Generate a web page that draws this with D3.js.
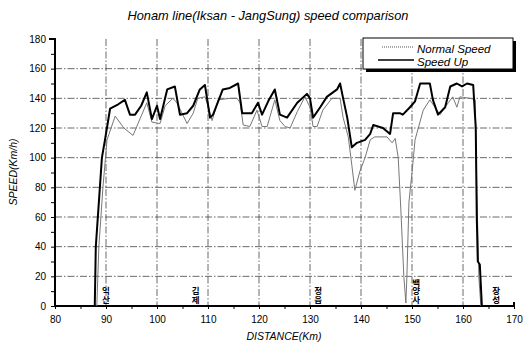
<!DOCTYPE html>
<html>
<head>
<meta charset="utf-8">
<script src="https://cdn.jsdelivr.net/npm/d3@7"></script>
<style>
  body { margin: 0; background: #fff; }
  text { font-family: "Liberation Sans", Arial, sans-serif; }
</style>
</head>
<body>
<div id="chart"></div>
<script>
// Speed Up (thick black line)
var distUp = [87.8, 88.0, 88.8, 89.2, 89.8, 90.8, 92.4, 93.7, 94.7, 95.7, 96.9, 98.0, 99.0, 100.0, 100.6,
    102.0, 103.5, 104.5, 105.9, 107.1, 108.4, 109.4, 110.4, 111.0, 112.9, 114.3, 115.9, 116.7, 118.6,
    119.8, 120.6, 121.8, 123.1, 124.1, 125.5, 127.5, 129.4, 130.0, 130.6, 132.0, 133.3, 135.3, 135.9,
    136.5, 137.3, 138.2, 139.2, 140.8, 141.8, 142.4, 144.3, 145.7, 146.3, 147.6, 148.2, 149.6, 150.6,
    151.6, 153.5, 154.1, 155.1, 156.5, 157.5, 158.8, 159.8, 160.8, 162.0, 162.5, 162.7, 162.9, 163.3, 163.7];
var speedUp = [0, 40, 80, 100, 112, 133, 136, 139, 129, 129, 135, 144, 126, 135, 126,
    146, 148, 129, 130, 135, 146, 149, 127, 129, 146, 147, 150, 130, 130,
    137, 129, 138, 146, 129, 127, 137, 143, 140, 127, 134, 141, 146, 150,
    140, 127, 107, 110, 112, 116, 122, 120, 116, 130, 130, 129, 134, 138,
    150, 150, 139, 129, 134, 148, 150, 148, 150, 149, 120, 60, 30, 28, 0];

// Normal Speed (thin grey line)
var distNormal = [88.2, 88.6, 89.4, 90.2, 91.8, 93.5, 95.3, 98.0, 99.0, 100.6, 101.6, 103.1, 103.9, 104.9,
    105.9, 107.1, 108.0, 109.4, 110.0, 110.8, 112.0, 114.3, 115.7, 116.3, 116.9, 118.2, 119.6, 120.6,
    121.6, 123.1, 124.1, 125.1, 126.1, 127.5, 129.0, 130.0, 130.6, 131.4, 132.5, 134.3, 135.9, 136.5,
    137.5, 138.2, 138.8, 139.8, 140.8, 141.8, 142.7, 145.1, 146.1, 146.7, 147.3, 147.8, 148.4, 148.8,
    149.0, 149.4, 150.0, 150.6, 152.2, 153.5, 154.9, 155.5, 157.1, 158.0, 158.8, 159.4, 161.4, 162.4,
    162.7, 163.1, 163.5];
var speedNormal = [0, 40, 80, 112, 128, 120, 115, 137, 124, 123, 135, 140, 137, 130,
    123, 130, 140, 141, 135, 125, 139, 140, 140, 137, 122, 121, 132, 121,
    121, 139, 125, 121, 120, 131, 141, 134, 121, 121, 132, 140, 140, 127,
    114, 95, 78, 91, 100, 112, 114, 114, 110, 113, 100, 66, 20, 2,
    20, 70, 90, 112, 132, 139, 132, 129, 137, 141, 134, 141, 140, 139,
    80, 20, 0];

var xTicks = [80, 90, 100, 110, 120, 130, 140, 150, 160, 170];
var yTicks = [0, 20, 40, 60, 80, 100, 120, 140, 160, 180];

var stationNames = ["익산", "김제", "정읍", "백양사", "장성"];
var stationKm = [90.0, 107.6, 131.6, 150.8, 166.5];

var W = 526, H = 343;
var margin = { top: 39, right: 12, bottom: 37, left: 55 };
var width = W - margin.left - margin.right,
    height = H - margin.top - margin.bottom;

var svg = d3.select("#chart").append("svg")
    .attr("width", W)
    .attr("height", H);

var g = svg.append("g")
    .attr("transform", "translate(" + margin.left + "," + margin.top + ")");

var x = d3.scaleLinear().domain([80, 170]).range([0, width]);
var y = d3.scaleLinear().domain([0, 180]).range([height, 0]);

// title
svg.append("text")
    .attr("x", 268).attr("y", 20)
    .attr("text-anchor", "middle")
    .style("font-size", "12.8px")
    .style("font-style", "italic")
    .text("Honam line(Iksan - JangSung) speed comparison");

// grid (dash-dot)
g.selectAll(".hgrid")
    .data(yTicks.filter(function(d){ return d > 0 && d < 180; }))
    .enter().append("line")
    .attr("x1", 0).attr("x2", width)
    .attr("y1", function(d){ return y(d); })
    .attr("y2", function(d){ return y(d); })
    .attr("stroke", "#444")
    .attr("stroke-width", 0.8)
    .attr("stroke-dasharray", "7,2,1.5,2");

g.selectAll(".vgrid")
    .data(xTicks.filter(function(d){ return d > 80 && d < 170; }))
    .enter().append("line")
    .attr("x1", function(d){ return x(d); })
    .attr("x2", function(d){ return x(d); })
    .attr("y1", 0).attr("y2", height)
    .attr("stroke", "#444")
    .attr("stroke-width", 0.8)
    .attr("stroke-dasharray", "7,2,1.5,2");

// axes
var xAxis = d3.axisBottom(x)
    .tickValues(d3.range(80, 171, 5))
    .tickSize(3)
    .tickFormat(function(d){ return xTicks.indexOf(d) >= 0 ? d : ""; });

var yAxis = d3.axisLeft(y)
    .tickValues(d3.range(0, 181, 10))
    .tickSize(4)
    .tickFormat(function(d){ return yTicks.indexOf(d) >= 0 ? d : ""; });

var gx = g.append("g")
    .attr("transform", "translate(0," + height + ")")
    .call(xAxis);
gx.select(".domain").attr("stroke-width", 2).attr("d", "M0,0H" + width + "V-4");
gx.selectAll("text").style("font-size", "10px").attr("dy", "1.1em");

var gy = g.append("g").call(yAxis);
gy.select(".domain").attr("stroke-width", 2).attr("d", "M-6,0H0V" + height);
gy.selectAll("text").style("font-size", "10px").attr("x", -9);

// axis titles
svg.append("text")
    .attr("transform", "translate(17," + 172 + ") rotate(-90)")
    .attr("text-anchor", "middle")
    .style("font-size", "10.5px")
    .style("font-style", "italic")
    .text("SPEED(Km/h)");

svg.append("text")
    .attr("x", 284).attr("y", 340)
    .attr("text-anchor", "middle")
    .style("font-size", "10.5px")
    .style("font-style", "italic")
    .text("DISTANCE(Km)");

// lines
var line = d3.line()
    .x(function(d){ return x(d[0]); })
    .y(function(d){ return y(d[1]); });

var normalData = distNormal.map(function(d, i){ return [d, speedNormal[i]]; });
var upData = distUp.map(function(d, i){ return [d, speedUp[i]]; });

g.append("path")
    .datum(normalData)
    .attr("fill", "none")
    .attr("stroke", "#777")
    .attr("stroke-width", 1)
    .attr("d", line);

g.append("path")
    .datum(upData)
    .attr("fill", "none")
    .attr("stroke", "#000")
    .attr("stroke-width", 2)
    .attr("stroke-linejoin", "round")
    .attr("d", line);

// station names, written top to bottom
g.selectAll(".station")
    .data(stationNames)
    .enter().append("text")
    .attr("class", "station")
    .attr("x", function(d, i){ return x(stationKm[i]); })
    .attr("y", function(d){ return height - 2 - d.length * 8.5; })
    .style("writing-mode", "vertical-rl")
    .style("text-orientation", "upright")
    .style("font-family", "'Noto Sans CJK KR'")
    .style("font-size", "8.5px")
    .style("font-weight", "bold")
    .text(function(d){ return d; });

// legend with shadow
var lg = svg.append("g");
lg.append("rect")
    .attr("x", 366).attr("y", 41).attr("width", 150).attr("height", 31)
    .attr("fill", "#000");
lg.append("rect")
    .attr("x", 363).attr("y", 38).attr("width", 150).attr("height", 31)
    .attr("fill", "#fff").attr("stroke", "#000").attr("stroke-width", 1);
lg.append("line")
    .attr("x1", 382).attr("x2", 414).attr("y1", 47).attr("y2", 47)
    .attr("stroke", "#555").attr("stroke-width", 1).attr("stroke-dasharray", "1,1");
lg.append("line")
    .attr("x1", 378).attr("x2", 414).attr("y1", 60).attr("y2", 60)
    .attr("stroke", "#000").attr("stroke-width", 1.5);
lg.append("text")
    .attr("x", 417).attr("y", 53)
    .style("font-size", "11.5px").style("font-style", "italic")
    .text("Normal  Speed");
lg.append("text")
    .attr("x", 417).attr("y", 66)
    .style("font-size", "11.5px").style("font-style", "italic")
    .text("Speed  Up");
</script>
</body>
</html>
